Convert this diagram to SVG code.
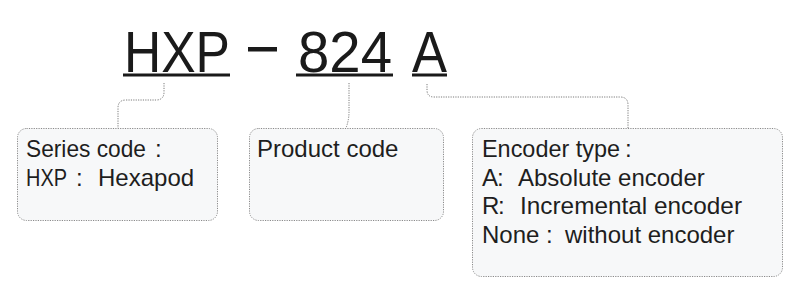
<svg xmlns="http://www.w3.org/2000/svg" width="800" height="303" viewBox="0 0 800 303">
<style>
.title{font-family:"Liberation Sans","Noto Sans",sans-serif;font-size:58px;fill:#1a1a1a}
.ul{stroke:#1a1a1a;stroke-width:3}
.box{fill:#f7f8f9;stroke:#8a8a8a;stroke-width:1;stroke-dasharray:1.2 1.2}
.lbl{font-family:"Liberation Sans","Noto Sans",sans-serif;font-size:24px;fill:#1e1e1e}
.conn{fill:none;stroke:#7a7a7a;stroke-width:1;stroke-dasharray:1.2 1.2}
</style>
<rect width="800" height="303" fill="#ffffff"/>
<g id="title">
<text class="title" x="124" y="72" textLength="106" lengthAdjust="spacingAndGlyphs">HXP</text>
<line class="ul" x1="123" y1="75" x2="230" y2="75"/>
<rect x="248" y="47" width="29" height="4.5" fill="#1a1a1a"/>
<text class="title" x="298" y="72" textLength="94" lengthAdjust="spacingAndGlyphs">824</text>
<line class="ul" x1="296" y1="75" x2="393" y2="75"/>
<text class="title" x="412" y="72" textLength="35" lengthAdjust="spacingAndGlyphs">A</text>
<line class="ul" x1="412" y1="75" x2="447" y2="75"/>
</g>
<g id="connectors">
<path class="conn" d="M164,83 V92 Q164,100 156,100 H126 Q118,100 118,108 V128"/>
<path class="conn" d="M349,83 V112 Q349,120 346,128"/>
<path class="conn" d="M427,84 V90 Q427,97 434,97 H620 Q628,97 628,105 V128"/>
</g>
<g id="series">
<rect class="box" x="17.5" y="128.5" width="200" height="92" rx="9"/>
<text class="lbl" y="157"><tspan x="26" textLength="120" lengthAdjust="spacingAndGlyphs">Series code</tspan><tspan x="155">:</tspan></text>
<text class="lbl" y="186"><tspan x="26" textLength="41" lengthAdjust="spacingAndGlyphs">HXP</tspan><tspan x="76">:</tspan><tspan x="98">Hexapod</tspan></text>
</g>
<g id="product">
<rect class="box" x="249.5" y="128.5" width="194" height="92" rx="9"/>
<text class="lbl" x="257" y="157">Product code</text>
</g>
<g id="encoder">
<rect class="box" x="472.5" y="128.5" width="310" height="148" rx="9"/>
<text class="lbl" y="157"><tspan x="482" textLength="138" lengthAdjust="spacingAndGlyphs">Encoder type</tspan><tspan x="625">:</tspan></text>
<text class="lbl" y="186"><tspan x="482">A</tspan><tspan x="497">:</tspan><tspan x="518">Absolute encoder</tspan></text>
<text class="lbl" y="214"><tspan x="482">R</tspan><tspan x="498">:</tspan><tspan x="520" textLength="222" lengthAdjust="spacingAndGlyphs">Incremental encoder</tspan></text>
<text class="lbl" y="243"><tspan x="482">None</tspan><tspan x="546">:</tspan><tspan x="565">without encoder</tspan></text>
</g>
</svg>
